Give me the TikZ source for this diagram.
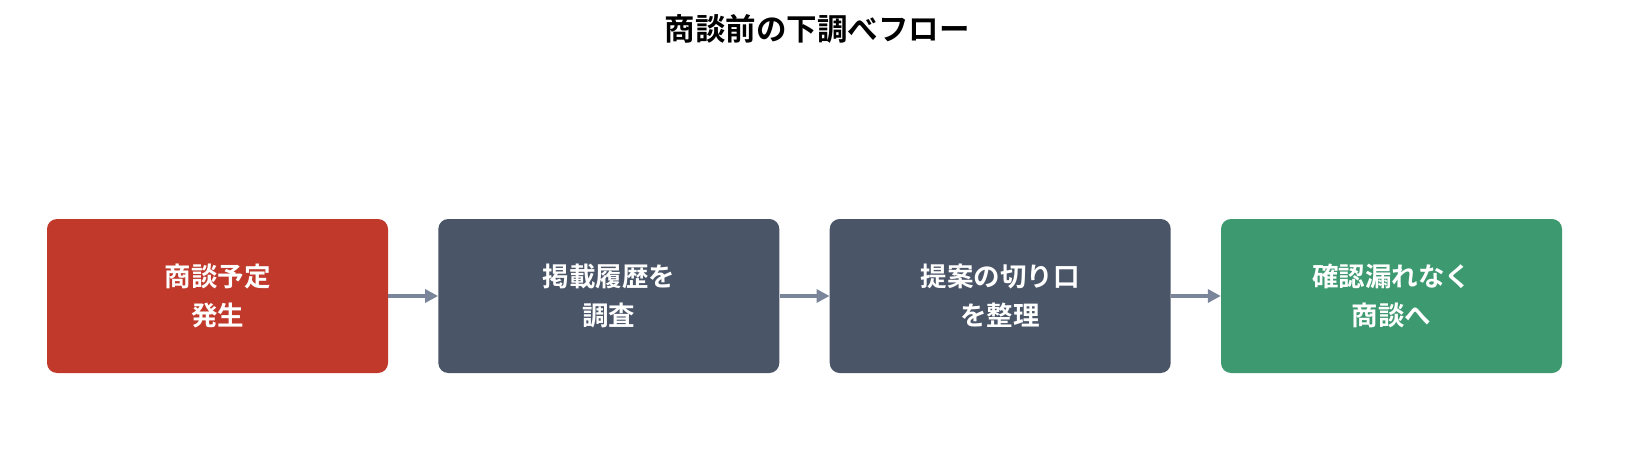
\documentclass[tikz,border=0pt]{standalone}
\usepackage{fontspec}
\newfontfamily\cjk{Noto Sans CJK JP}[BoldFont={Noto Sans CJK JP Bold}]
\usetikzlibrary{arrows.meta}
\definecolor{cred}{HTML}{C0392B}
\definecolor{cslate}{HTML}{4A5568}
\definecolor{cgreen}{HTML}{3D9970}
\definecolor{carrow}{HTML}{7A8599}
\begin{document}
\begin{tikzpicture}[x=1pt,y=-1pt,
  stepbox/.style={rounded corners=10pt,minimum width=341pt,minimum height=154pt,inner sep=0pt,
    text=white,font=\cjk\bfseries\fontsize{26.5}{39}\selectfont,align=center},
  conn/.style={draw=carrow,line width=4.2pt,-{Stealth[length=13pt,width=13pt,inset=0pt]}}]
\useasboundingbox[fill=white] (0,0) rectangle (1635,465);
\node[font=\cjk\bfseries\fontsize{30.5}{36}\selectfont] (title) at (817,29) {商談前の下調べフロー};
\node[stepbox,fill=cred] (s1) at (217.5,296) {商談予定\\発生};
\node[stepbox,fill=cslate] (s2) at (608.8,296) {掲載履歴を\\調査};
\node[stepbox,fill=cslate] (s3) at (1000.2,296) {提案の切り口\\を整理};
\node[stepbox,fill=cgreen] (s4) at (1391.5,296) {確認漏れなく\\商談へ};
\draw[conn] (s1) -- (s2);
\draw[conn] (s2) -- (s3);
\draw[conn] (s3) -- (s4);
\end{tikzpicture}
\end{document}
